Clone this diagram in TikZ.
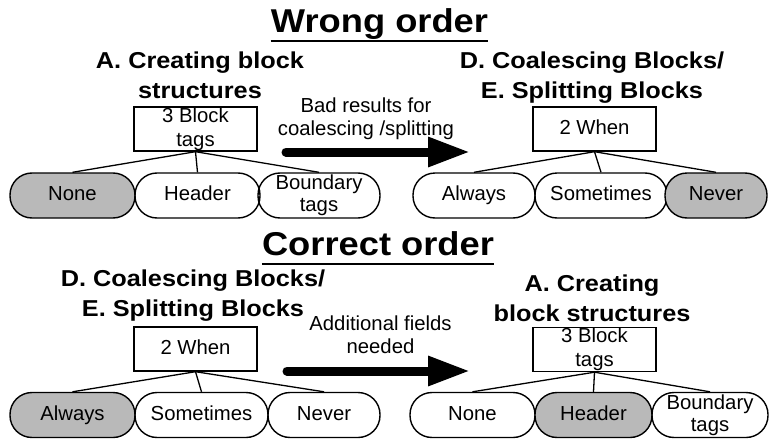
\documentclass[tikz,border=0pt]{standalone}
\usepackage{fontspec}
\setmainfont{Liberation Sans}
\newfontfamily\hdfont[FakeStretch=1.1]{Liberation Sans}
\usetikzlibrary{arrows.meta}
\definecolor{selgray}{RGB}{185,185,185}
\begin{document}
\begin{tikzpicture}[x=1pt,y=-1pt,
  title/.style={font=\hdfont\bfseries\fontsize{33}{38}\selectfont, inner sep=0},
  heading/.style={font=\hdfont\bfseries\fontsize{23}{30}\selectfont, align=center, inner sep=0},
  lbl/.style={font=\fontsize{20.3}{23}\selectfont, align=center, inner sep=0},
  box/.style={draw, line width=1.4pt, minimum width=123pt, minimum height=44pt, inner sep=0, align=center, font=\fontsize{20.3}{24}\selectfont},
  pill/.style={draw, line width=1.4pt, rounded corners=22pt, minimum height=45pt, inner sep=0, align=center, font=\fontsize{20.3}{22}\selectfont},
  one/.style={text height=14.6pt, text depth=4.3pt},
  sel/.style={fill=selgray},
  link/.style={line width=1.3pt},
  bigarrow/.style={line width=9pt, line cap=round, -{Triangle[length=42pt,width=28pt]}},
  uline/.style={line width=2.8pt}
]
\useasboundingbox (0,0) rectangle (769,439);

% ---------- Wrong order ----------
\node[title, anchor=base] (t1) at (379.5,32) {Wrong order};
\draw[uline] ([yshift=-9pt]t1.base west) -- ([yshift=-9pt]t1.base east);

\node[heading] (h1) at (200,75) {A. Creating block\\structures};
\node[heading] (h2) at (592,77.7) {D. Coalescing Blocks/\\E. Splitting Blocks};

\node[lbl] (l1) at (366,118.5) {Bad results for\\coalescing /splitting};
\coordinate (a1s) at (286,152);
\coordinate (a1e) at (470,152);
\draw[bigarrow] (a1s) -- (a1e);

\node[box] (b1) at (195.5,129) {3 Block\\tags};
\node[box, one] (b2) at (594.5,129) {2 When};

\node[pill, one, sel, minimum width=125pt] (p1a) at (72.5,195.5) {None};
\node[pill, one, minimum width=125pt] (p1b) at (197.5,195.5) {Header};
\node[pill, minimum width=122pt] (p1c) at (319,195.5) {Boundary\\tags};

\node[pill, one, minimum width=122pt] (p2a) at (474,195.5) {Always};
\node[pill, one, minimum width=132pt] (p2b) at (601,195.5) {Sometimes};
\node[pill, one, sel, minimum width=102pt] (p2c) at (716,195.5) {Never};

\draw[link] (b1.south) -- (p1a.north);
\draw[link] (b1.south) -- (p1b.north);
\draw[link] (b1.south) -- (p1c.north);
\draw[link] (b2.south) -- (p2a.north);
\draw[link] (b2.south) -- (p2b.north);
\draw[link] (b2.south) -- (p2c.north);

% ---------- Correct order ----------
\node[title, anchor=base] (t2) at (378,255) {Correct order};
\draw[uline] ([yshift=-9pt]t2.base west) -- ([yshift=-9pt]t2.base east);

\node[heading] (h3) at (193,295.7) {D. Coalescing Blocks/\\E. Splitting Blocks};
\node[heading] (h4) at (592,298) {A. Creating\\block structures};

\node[lbl] (l2) at (380.5,334.3) {Additional fields\\needed};
\coordinate (a2s) at (287,371);
\coordinate (a2e) at (470,371);
\draw[bigarrow] (a2s) -- (a2e);

\node[box, one] (b3) at (195.5,349) {2 When};
\node[box] (b4) at (594.5,349.5) {3 Block\\tags};

\node[pill, one, sel, minimum width=125pt] (p3a) at (72.5,415) {Always};
\node[pill, one, minimum width=133pt] (p3b) at (201.5,415) {Sometimes};
\node[pill, one, minimum width=112pt] (p3c) at (324,415) {Never};

\node[pill, one, minimum width=125pt] (p4a) at (472.5,415) {None};
\node[pill, one, sel, minimum width=117pt] (p4b) at (593.5,415) {Header};
\node[pill, minimum width=116pt] (p4c) at (710,415) {Boundary\\tags};

\draw[link] (b3.south) -- (p3a.north);
\draw[link] (b3.south) -- (p3b.north);
\draw[link] (b3.south) -- (p3c.north);
\draw[link] (b4.south) -- (p4a.north);
\draw[link] (b4.south) -- (p4b.north);
\draw[link] (b4.south) -- (p4c.north);
\end{tikzpicture}
\end{document}
